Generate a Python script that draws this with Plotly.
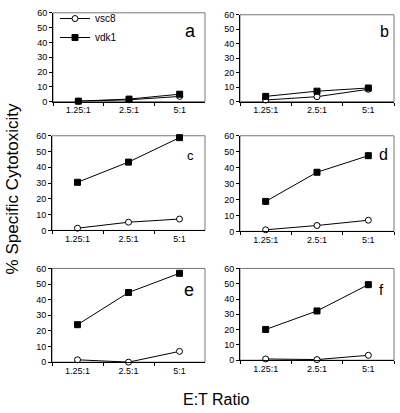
import plotly.graph_objects as go

categories = ["1.25:1", "2.5:1", "5:1"]
panels = ["a", "b", "c", "d", "e", "f"]
vsc8 = {
    "a": [0.3, 1.2, 3.5],
    "b": [1.1, 3.4, 8.5],
    "c": [1.4, 5.2, 7.2],
    "d": [1.0, 3.7, 7.0],
    "e": [1.5, 0.0, 6.9],
    "f": [0.8, 0.4, 3.2],
}
vdk1 = {
    "a": [0.3, 1.7, 5.0],
    "b": [3.6, 7.2, 9.4],
    "c": [30.5, 43.3, 58.8],
    "d": [18.8, 37.1, 47.5],
    "e": [24.0, 44.6, 56.9],
    "f": [20.1, 32.2, 49.4],
}
y_ticks = [0, 10, 20, 30, 40, 50, 60]

W, H = 400, 413
FONT = "Arial, Liberation Sans, sans-serif"

# pixel boxes: (left, right, top, bottom)
boxes = {
    "a": (53, 205, 8, 99),
    "b": (240, 394, 10, 99),
    "c": (52, 205, 134, 231),
    "d": (240, 394, 134, 232),
    "e": (52, 205, 270, 366),
    "f": (240, 394, 270, 364),
}
letter_pos = {
    "a": (190, 27, 18), "b": (384, 27, 16), "c": (190, 154, 13),
    "d": (383, 153, 16), "e": (189, 292, 18), "f": (381, 292, 15),
}

fig = go.Figure()
layout = dict(
    width=W, height=H, margin=dict(l=0, r=0, t=0, b=0),
    paper_bgcolor="white", plot_bgcolor="white",
    font=dict(family=FONT, size=9, color="black"),
    showlegend=True,
    legend=dict(x=55 / W, y=1 + 1 / H, xanchor="left", yanchor="top",
                bgcolor="rgba(0,0,0,0)", font=dict(size=10, family=FONT),
                itemwidth=30, tracegroupgap=0),
)
shapes = []
annotations = []
for i, p in enumerate(panels):
    n = i + 1
    xa = "xaxis" if n == 1 else f"xaxis{n}"
    ya = "yaxis" if n == 1 else f"yaxis{n}"
    xr = "x" if n == 1 else f"x{n}"
    yr = "y" if n == 1 else f"y{n}"
    l, r, t, b = boxes[p]
    layout[xa] = dict(
        domain=[l / W, r / W], anchor=yr, type="category",
        categoryorder="array", categoryarray=categories,
        range=[-0.5, 2.5], tickson="boundaries", ticks="outside", ticklen=3,
        tickcolor="black", showline=True, linecolor="black", linewidth=1,
        showgrid=False, zeroline=False, tickfont=dict(size=9, family=FONT),
        fixedrange=True,
    )
    layout[ya] = dict(
        domain=[1 - b / H, 1 - t / H], anchor=xr, range=[0, 60],
        tickvals=y_ticks, ticks="outside", ticklen=3, tickcolor="black",
        showline=True, linecolor="black", linewidth=1, showgrid=False,
        zeroline=False, tickfont=dict(size=9, family=FONT), fixedrange=True,
    )
    shapes.append(dict(type="rect", xref=f"{xr} domain", yref=f"{yr} domain",
                       x0=0, x1=1, y0=0, y1=1,
                       line=dict(color="#777", width=1), layer="below"))
    fig.add_trace(go.Scatter(
        x=categories, y=vsc8[p], xaxis=xr, yaxis=yr, mode="lines+markers",
        name="vsc8", showlegend=(n == 1), cliponaxis=False,
        line=dict(color="black", width=1),
        marker=dict(symbol="circle", size=6, color="white",
                    line=dict(color="black", width=1)),
    ))
    fig.add_trace(go.Scatter(
        x=categories, y=vdk1[p], xaxis=xr, yaxis=yr, mode="lines+markers",
        name="vdk1", showlegend=(n == 1), cliponaxis=False,
        line=dict(color="black", width=1),
        marker=dict(symbol="square", size=6, color="black",
                    line=dict(color="black", width=1)),
    ))
    lx, ly, ls = letter_pos[p]
    annotations.append(dict(text=p, x=lx / W, y=1 - ly / H, xref="paper",
                            yref="paper", showarrow=False,
                            font=dict(size=ls, family=FONT),
                            xanchor="center", yanchor="middle"))

annotations.append(dict(text="% Specific Cytotoxicity", x=12 / W, y=1 - 189 / H,
                        xref="paper", yref="paper", showarrow=False,
                        textangle=-90, font=dict(size=17, family=FONT),
                        xanchor="center", yanchor="middle"))
annotations.append(dict(text="E:T Ratio", x=216 / W, y=1 - 404 / H,
                        xref="paper", yref="paper", showarrow=False,
                        font=dict(size=16, family=FONT),
                        xanchor="center", yanchor="middle"))
layout["shapes"] = shapes
layout["annotations"] = annotations
fig.update_layout(**layout)
fig.write_html(
    "out.html",
    config={"displayModeBar": False},
    post_script="document.body.style.margin='0';document.body.style.overflow='hidden';",
)
